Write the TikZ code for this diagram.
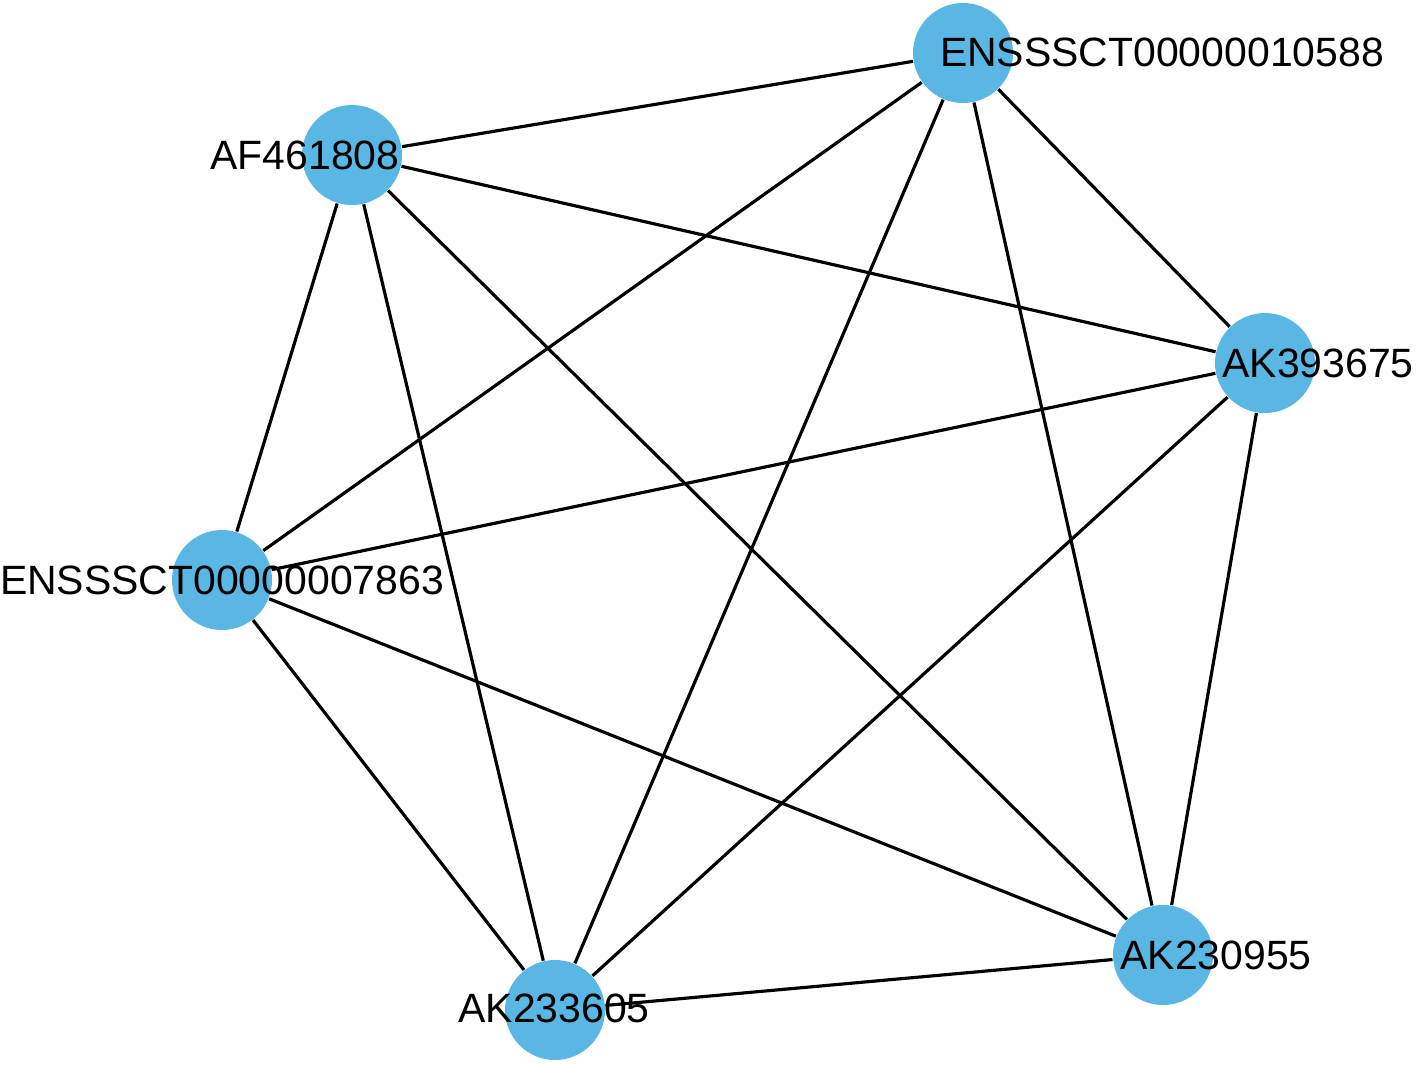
\documentclass[tikz,border=0pt]{standalone}
\usepackage{fontspec}
\setmainfont{Liberation Sans}
\usepackage{xcolor}
\usetikzlibrary{positioning,calc}

\definecolor{geneblue}{RGB}{90,183,228}

\tikzset{
  gene/.style={circle,fill=geneblue,minimum size=1cm,inner sep=0pt},
  genelabel/.style={inner sep=0pt,font=\fontsize{11.65}{13}\selectfont},
  link/.style={line width=0.9pt,black}
}

\begin{document}
\begin{tikzpicture}
  \useasboundingbox (0,0) rectangle (14.18,10.64);

  \node[gene] (E1) at (9.63,10.11) {};
  \node[gene] (AF) at (3.52,9.09) {};
  \node[gene] (K3) at (12.65,7.01) {};
  \node[gene] (E2) at (2.22,4.84) {};
  \node[gene] (K9) at (11.63,1.09) {};
  \node[gene] (K6) at (5.55,0.54) {};

  \node[genelabel] (E1l) at (11.62,10.12) {ENSSSCT00000010588};
  \node[genelabel] (AFl) at (3.05,9.09) {AF461808};
  \node[genelabel] (K3l) at (13.18,7.01) {AK393675};
  \node[genelabel] (E2l) at (2.22,4.84) {ENSSSCT00000007863};
  \node[genelabel] (K9l) at (12.16,1.09) {AK230955};
  \node[genelabel] (K6l) at (5.54,0.56) {AK233605};

  \foreach \a/\b in {E1/AF,E1/K3,E1/E2,E1/K9,E1/K6,
                     AF/K3,AF/E2,AF/K9,AF/K6,
                     K3/E2,K3/K9,K3/K6,
                     E2/K9,E2/K6,
                     K9/K6}
    \draw[link] (\a) -- (\b);
\end{tikzpicture}
\end{document}
